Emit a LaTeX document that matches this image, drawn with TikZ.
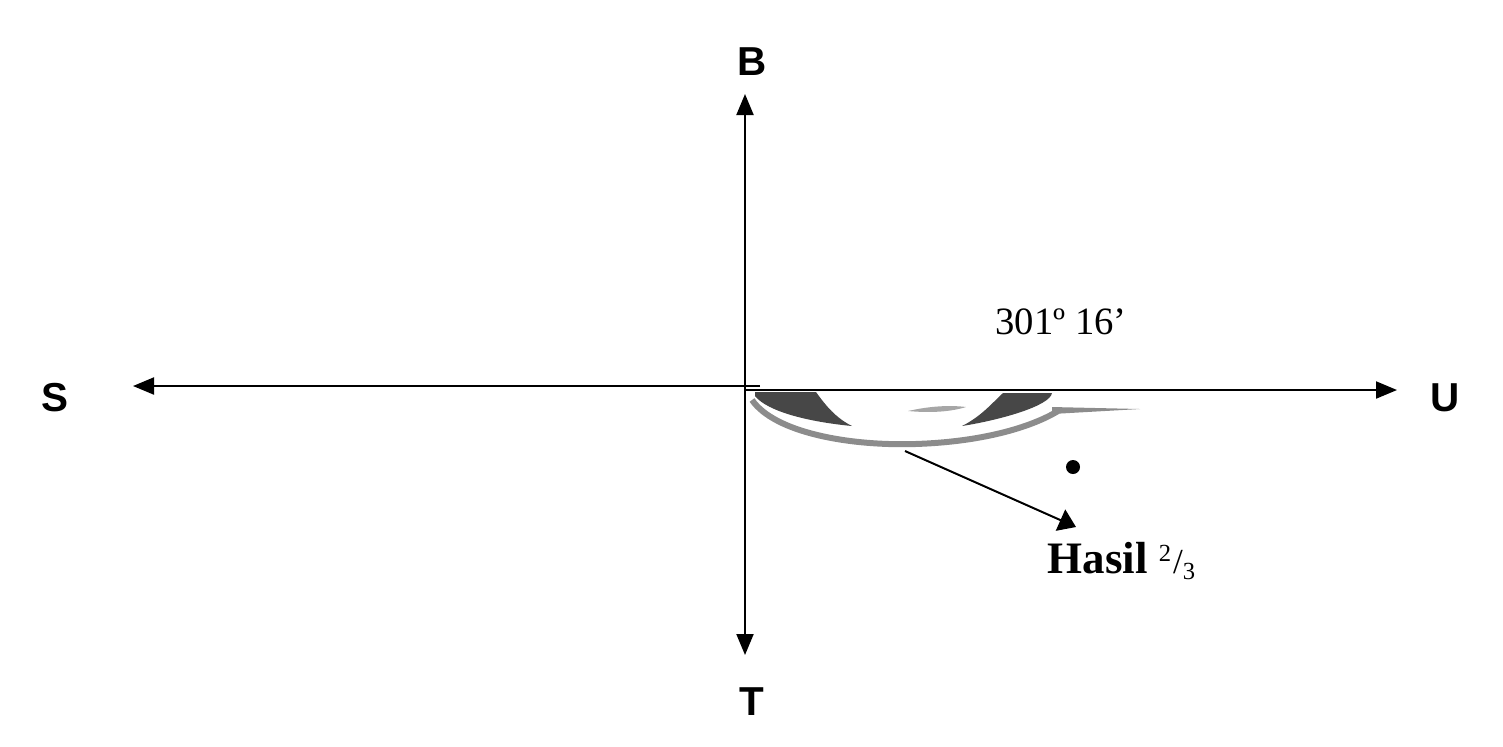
\documentclass[tikz,border=0pt]{standalone}
\usepackage{fontspec}
\setmainfont{Liberation Serif}
\setsansfont{Liberation Sans}
\usetikzlibrary{arrows.meta,positioning,calc}

\tikzset{
  axis/.style={line width=0.2mm, -{Triangle[length=2.1mm,width=1.7mm]}},
  dirlabel/.style={font=\sffamily\bfseries\fontsize{11.5}{13}\selectfont, inner sep=0pt},
  swoosh/.style={fill=black!72, draw=none},
}

\begin{document}
\begin{tikzpicture}[x=0.1mm,y=-0.1mm]
\useasboundingbox (0,0) rectangle (1503,746);

% Axes
\coordinate (O) at (745,388);
\coordinate (Ow) at (760,386);
\coordinate (Oe) at (745,390);
\coordinate (north) at (745,94);
\coordinate (south) at (745,655);
\coordinate (west) at (133,386);
\coordinate (east) at (1397,390);
\draw[axis] (O) -- (north);
\draw[axis] (O) -- (south);
\draw[axis] (Ow) -- (west);
\draw[axis] (Oe) -- (east);

\node[dirlabel] (B) at (752,62) {B};
\node[dirlabel] (T) at (752,702) {T};
\node[dirlabel] (U) at (1445,398) {U};
\node[dirlabel] (S) at (55,398) {S};

% Angle swoosh
\draw[black!45, line width=0.6mm] (752,400) .. controls (775,433) and (850,446) .. (915,444)
  .. controls (980,442) and (1030,428) .. (1058,411);
\fill[black!45] (1052,407) -- (1140,409) -- (1052,414) -- cycle;
\fill[swoosh] (755,392) -- (816,392) .. controls (826,406) and (836,418) .. (852,426)
  .. controls (810,422) and (768,412) .. (755,396) -- cycle;
\fill[swoosh] (1003,393) -- (1052,393) .. controls (1050,406) and (1000,420) .. (962,426)
  .. controls (982,416) and (994,401) .. cycle;
\fill[black!35] (908,411) .. controls (930,406) and (950,405) .. (966,407)
  .. controls (950,412) and (930,413) .. cycle;

\node[font=\fontsize{11}{13}\selectfont, inner sep=0pt] (angle) at (1061,322) {301º 16’};

% Result
\fill (1073,467) circle (7);
\coordinate (arcpt) at (905,451);
\coordinate (tip) at (1076,527);
\draw[line width=0.2mm, -{Triangle[length=1.7mm,width=2.3mm]}] (arcpt) -- (tip);
\node[font=\fontsize{12.8}{14}\selectfont, inner sep=0pt, anchor=west] (hasil) at (1047,561)
  {\textbf{Hasil} {\fontsize{10}{12}\selectfont\textsuperscript{2}/\textsubscript{3}}};

\end{tikzpicture}
\end{document}
